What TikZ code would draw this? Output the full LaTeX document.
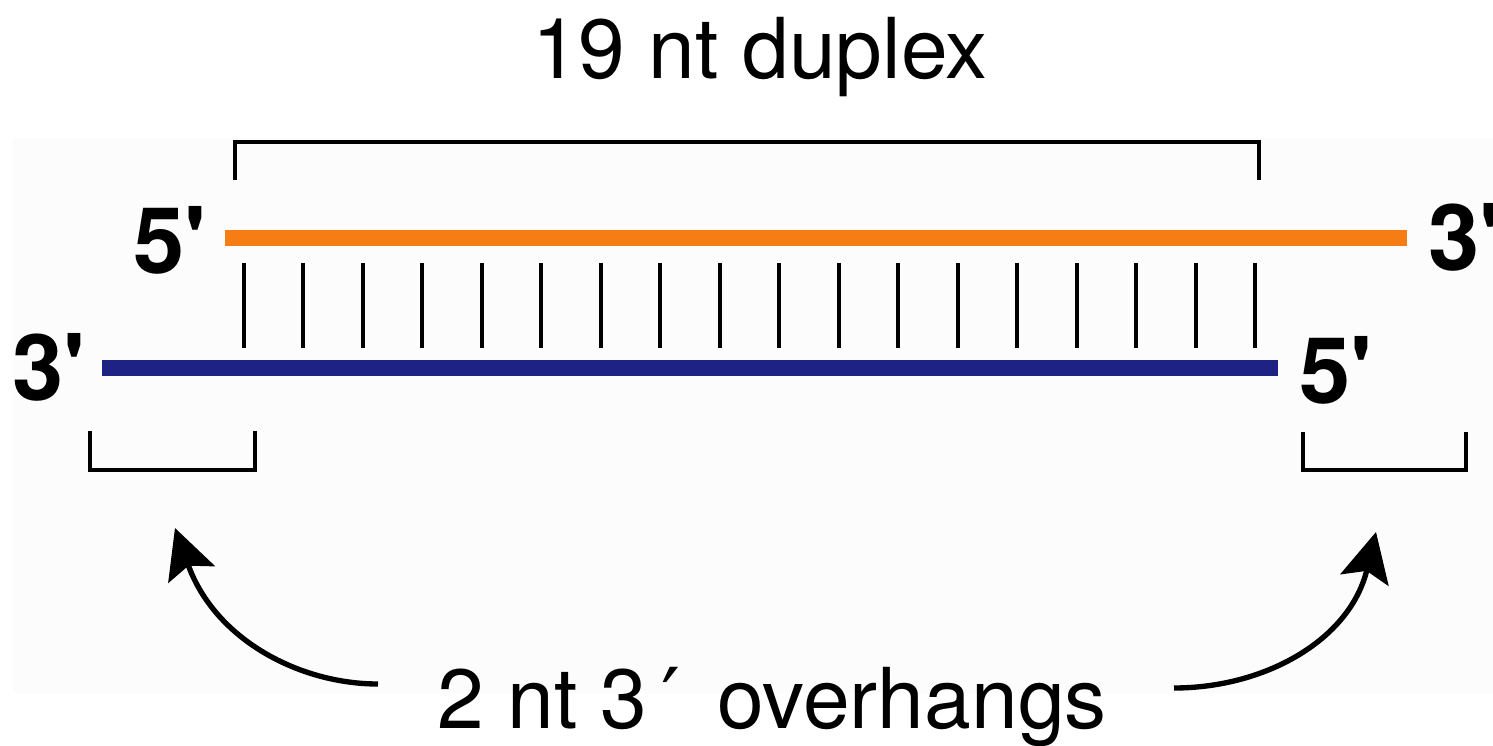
\documentclass[tikz,border=0pt]{standalone}
\usepackage{fontspec}
\setmainfont{TeX Gyre Heros}
\newfontfamily\labelfont{TeX Gyre Heros}
\newfontfamily\primefont{DejaVu Sans}
\usetikzlibrary{arrows.meta}
\definecolor{strandorange}{RGB}{245,125,20}
\definecolor{strandblue}{RGB}{30,34,130}
\definecolor{panelgray}{RGB}{252,252,252}
\begin{document}
\begin{tikzpicture}[x=0.75pt,y=-0.75pt,
  strand/.style={line width=12pt},
  pair/.style={line width=3pt},
  bracket/.style={line width=3.3pt, line join=miter},
  endlabel/.style={font=\fontsize{69}{69}\labelfont\bfseries, inner sep=0pt},
  caption/.style={font=\fontsize{63}{63}\selectfont, inner sep=0pt},
  curvearrow/.style={line width=4pt, -{Stealth[length=37pt,width=37pt,inset=7pt]}}]
\useasboundingbox (0,0) rectangle (1493,746);
\fill[panelgray] (13,138) rectangle (1493,693);

% captions
\node[caption, anchor=base] (title) at (760,78) {19 nt duplex};
\node[caption, anchor=base] (over) at (772,728) {2 nt 3\,{\primefont ′}\, overhangs};

% strands
\coordinate (o1) at (225,238);
\coordinate (o2) at (1407,238);
\coordinate (b1) at (102,368);
\coordinate (b2) at (1278,368);
\draw[strand, strandorange] (o1) -- (o2);
\draw[strand, strandblue] (b1) -- (b2);

% end labels
\node[endlabel, anchor=base east] (s5) at (207,273) {5'};
\node[endlabel, anchor=base west] (s3) at (1428,270) {3'};
\node[endlabel, anchor=base west] (a3) at (12,400) {3'};
\node[endlabel, anchor=base west] (a5) at (1299,403) {5'};

% base pairs
\foreach \i in {0,...,17}
  \draw[pair] ({244+59.47*\i},263) -- ++(0,85);

% brackets
\draw[bracket] (235,180) -- (235,142) -- (1259,142) -- (1259,180);
\draw[bracket] (90,431) -- (90,470) -- (255,470) -- (255,431);
\draw[bracket] (1303,432) -- (1303,470) -- (1466,470) -- (1466,432);

% arrows
\coordinate (lt) at (378,684);
\coordinate (ltip) at (175,528);
\coordinate (rt) at (1174,688);
\coordinate (rtip) at (1376,532);
\draw[curvearrow] (lt) .. controls (300,684) and (215,640) .. (ltip);
\draw[curvearrow] (rt) .. controls (1265,688) and (1350,640) .. (rtip);
\end{tikzpicture}
\end{document}
